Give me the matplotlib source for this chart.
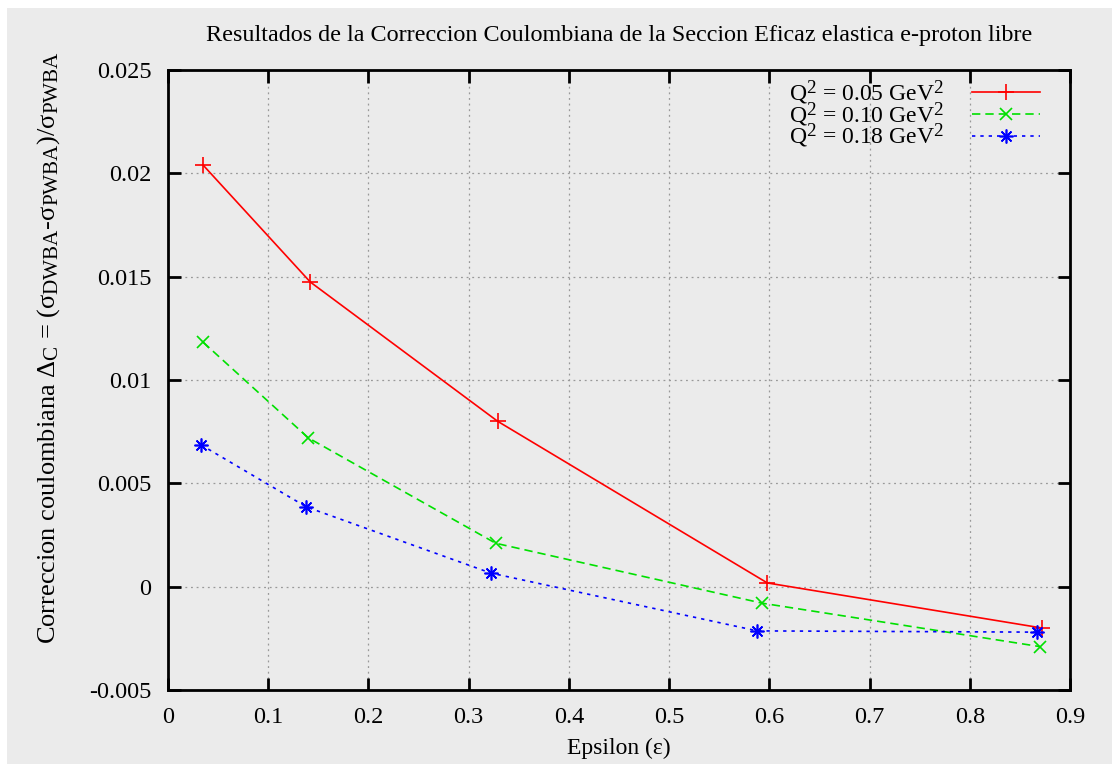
import matplotlib
matplotlib.use("Agg")
import matplotlib.pyplot as plt
import matplotlib._mathtext as mathtext_internal
from matplotlib.patches import Rectangle

plt.rcParams['font.family'] = ['Liberation Serif', 'DejaVu Serif']
plt.rcParams['mathtext.fontset'] = 'custom'
plt.rcParams['mathtext.rm'] = 'Liberation Serif'
plt.rcParams['mathtext.it'] = 'Liberation Serif:italic'
plt.rcParams['mathtext.bf'] = 'Liberation Serif:bold'
# gnuplot sub/superscripts are a bit bigger than matplotlib's
mathtext_internal.SHRINK_FACTOR = 0.8

# data
eps_005 = [0.035, 0.142, 0.329, 0.598, 0.872]
dc_005 = [0.0204, 0.01474, 0.0080, 0.00018, -0.0020]

eps_010 = [0.035, 0.140, 0.327, 0.593, 0.870]
dc_010 = [0.01183, 0.0072, 0.0021, -0.0008, -0.0029]

eps_018 = [0.033, 0.138, 0.322, 0.588, 0.867]
dc_018 = [0.00686, 0.00386, 0.00066, -0.00214, -0.0022]

labels = [r'Q$^{2}$ = 0.05 GeV$^{2}$', r'Q$^{2}$ = 0.10 GeV$^{2}$', r'Q$^{2}$ = 0.18 GeV$^{2}$']

bg = '#ebebeb'
fig = plt.figure(figsize=(11.12, 7.64), dpi=100, facecolor=bg)
# white strips on top and left like the screenshot
fig.patches.append(Rectangle((0, 1 - 8 / 764), 1, 8 / 764, transform=fig.transFigure,
                             facecolor='white', edgecolor='none', zorder=-1))
fig.patches.append(Rectangle((0, 0), 7 / 1112, 1, transform=fig.transFigure,
                             facecolor='white', edgecolor='none', zorder=-1))

ax = fig.add_axes([168 / 1112, 1 - 690 / 764, (1070 - 168) / 1112, (690 - 70) / 764])
ax.set_facecolor(bg)

ax.plot(eps_005, dc_005, color='#ff0000', lw=1.2, ls='-', marker='+', ms=11, mew=1.2, label=labels[0])
ax.plot(eps_010, dc_010, color='#00e000', lw=1.2, ls=(0, (5, 3)), marker='x', ms=9, mew=1.2, label=labels[1])
ax.plot(eps_018, dc_018, color='#0000ff', lw=1.2, ls=(0, (2, 3)), marker=(8, 2, 0), ms=10, mew=1.2, label=labels[2])

ax.set_xlim(0, 0.9)
ax.set_ylim(-0.005, 0.025)
ax.set_xticks([0, 0.1, 0.2, 0.3, 0.4, 0.5, 0.6, 0.7, 0.8, 0.9])
ax.set_xticklabels(['0', '0.1', '0.2', '0.3', '0.4', '0.5', '0.6', '0.7', '0.8', '0.9'])
ax.set_yticks([-0.005, 0, 0.005, 0.01, 0.015, 0.02, 0.025])
ax.set_yticklabels(['-0.005', '0', '0.005', '0.01', '0.015', '0.02', '0.025'])

ax.grid(True, color='#999999', ls=(0, (1.5, 3)), lw=0.9)
ax.tick_params(direction='in', length=9, width=2, top=True, right=True, labelsize=17.5)
ax.tick_params(axis='x', pad=12)
ax.tick_params(axis='y', pad=12)
for s in ax.spines.values():
    s.set_linewidth(2)

ax.set_title('Resultados de la Correccion Coulombiana de la Seccion Eficaz elastica e-proton libre',
             fontsize=17.4, pad=21)
ax.set_xlabel('Epsilon (ε)', fontsize=17, labelpad=7)
ax.set_ylabel(r'Correccion coulombiana $\mathrm{\Delta_C}$ = ($\mathrm{\sigma_{DWBA}}$-$\mathrm{\sigma_{PWBA}}$)/$\mathrm{\sigma_{PWBA}}$',
              fontsize=19)
ax.yaxis.set_label_coords(-0.118, 0.553)

leg = ax.legend(loc='upper right', bbox_to_anchor=(1 - 13 / 902, 1 + 8 / 620), frameon=False,
                markerfirst=False, fontsize=17, handlelength=2.9, labelspacing=-0.3,
                borderaxespad=0.3, handletextpad=1.2)

fig.savefig('out.png', dpi=100, facecolor=fig.get_facecolor())
